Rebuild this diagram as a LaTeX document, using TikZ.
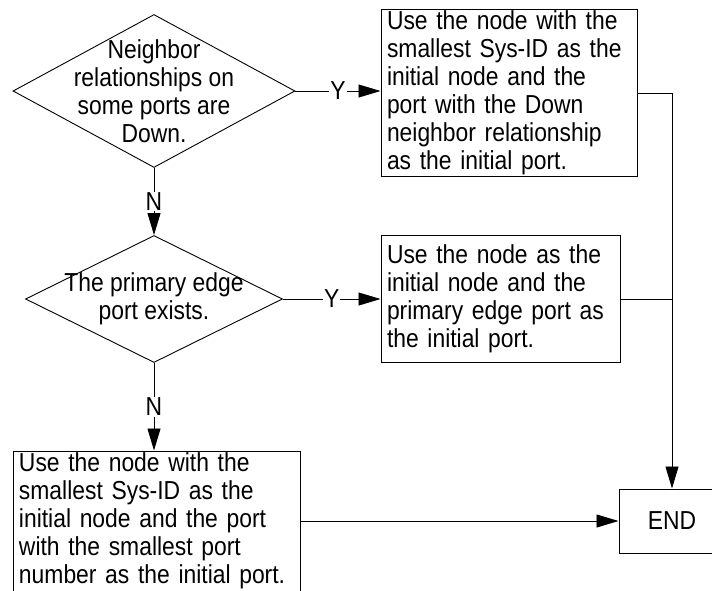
\documentclass[tikz,border=0pt]{standalone}
\usepackage{fontspec}
\setmainfont[FakeStretch=0.88]{Liberation Sans}
\usetikzlibrary{arrows.meta,shapes.geometric}

\begin{document}
\begin{tikzpicture}[x=1pt,y=-1pt,font=\fontsize{26}{28}\selectfont,
    decision/.style={diamond,draw,line width=0.9pt,inner sep=0pt},
    procbox/.style={rectangle,draw,line width=1pt,align=left,inner xsep=6pt,inner ysep=0pt},
    flow/.style={line width=0.9pt,-{Triangle[length=22pt,width=13pt]}},
    yn/.style={fill=white,inner sep=1pt}]
  \useasboundingbox (0,0) rectangle (712,590);
  % decisions
  \node[decision,minimum width=282pt,minimum height=153pt,
        label={[align=center]center:{Neighbor\\relationships on\\some ports are\\Down.}}] (dec1) at (154,91) {};
  \node[decision,minimum width=257pt,minimum height=127pt,
        label={[align=center]center:{The primary edge\\port exists.}}] (dec2) at (154,299) {};
  % actions
  \node[procbox,text width=244pt,minimum height=167pt] (proc1) at (509,93)
    {Use the node with the\\smallest Sys-ID as the\\initial node and the\\port with the Down\\neighbor relationship\\as the initial port.};
  \node[procbox,text width=227pt,minimum height=127pt] (proc2) at (500.5,299)
    {Use the node as the\\initial node and the\\primary edge port as\\the initial port.};
  \node[procbox,text width=275pt,minimum height=140pt] (proc3) at (156.5,521)
    {Use the node with the\\smallest Sys-ID as the\\initial node and the port\\with the smallest port\\number as the initial port.};
  \node[draw,line width=1pt,minimum width=106pt,minimum height=64pt] (end) at (672,521) {END};
  % connectors
  \draw[flow] (dec1.east) -- node[yn]{Y} (dec1.east -| proc1.west);
  \draw[flow] (dec2.east) -- node[yn]{Y} (proc2.west);
  \draw[flow] (dec1.south) -- node[yn]{N} (dec2.north);
  \draw[flow] (dec2.south) -- node[yn]{N} (dec2.south |- proc3.north);
  \draw[flow] (proc1.east) -| (end.north);
  \draw[line width=0.9pt] (proc2.east) -- (proc2.east -| end.north);
  \draw[flow] (proc3.east) -- (end.west);
\end{tikzpicture}
\end{document}
